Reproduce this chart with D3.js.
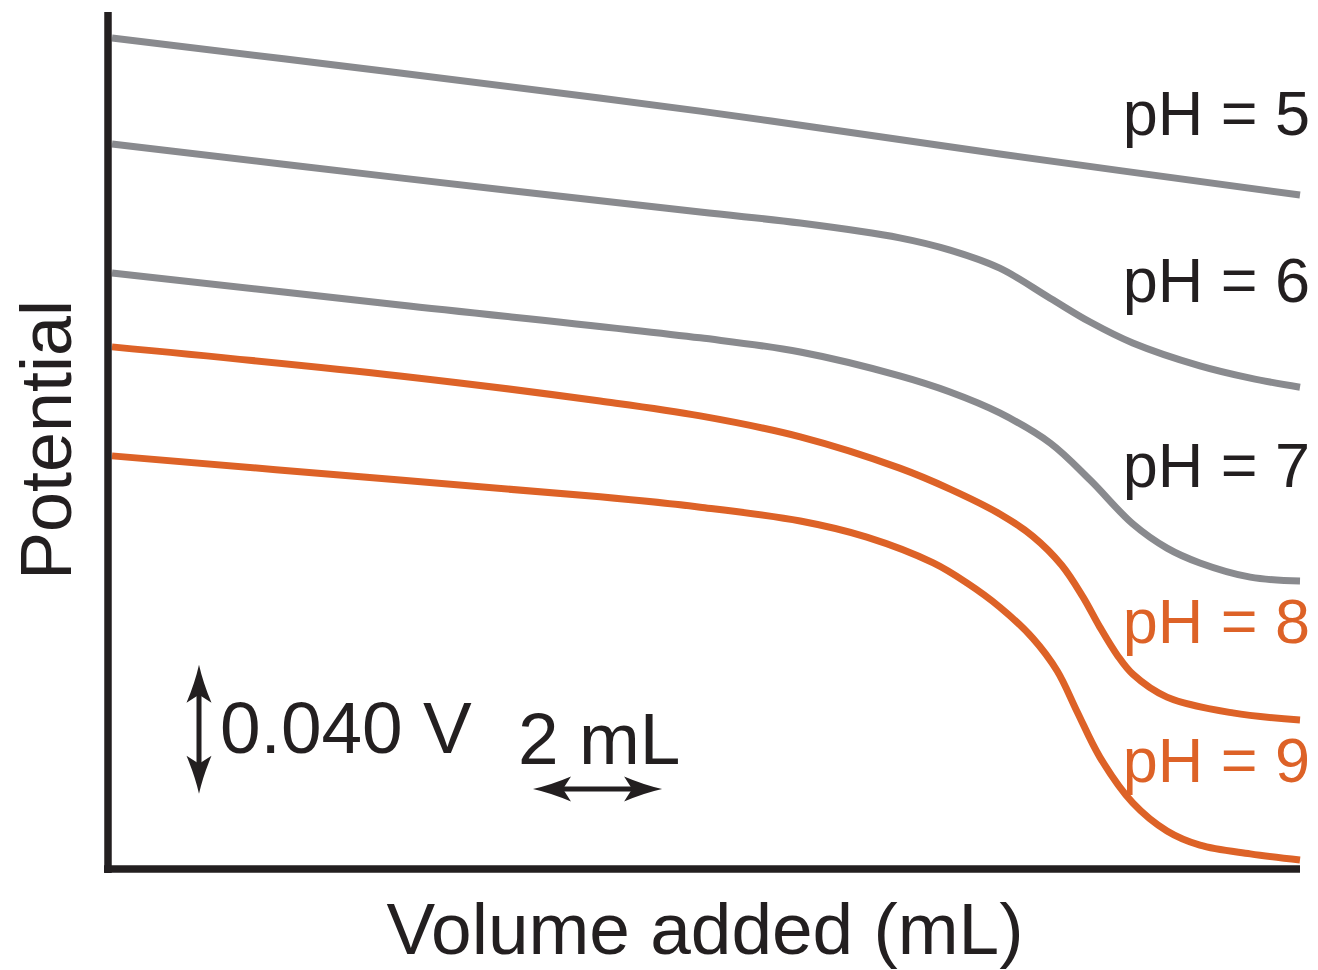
<!DOCTYPE html>
<html>
<head>
<meta charset="utf-8">
<script src="https://cdn.jsdelivr.net/npm/d3@7"></script>
<style>
	body { margin: 0; background: #fff; }
	text { font-family: "Liberation Sans", Arial, sans-serif; fill: #231f20; }
</style>
</head>
<body>
<svg id="chart" width="1318" height="970"></svg>
<script>
// ==================================
// data
// ==================================
var SERIES_NAMES = ["pH = 5", "pH = 6", "pH = 7", "pH = 8", "pH = 9"];

// volume added, mL
var VOL_PH5 = [0, 4.46, 9.11, 13.75, 18.4];
var VOL_PH6 = [0, 4.46, 9.11, 10.66, 12.20, 12.98, 13.75, 14.53, 15.15, 15.81, 16.85, 17.63, 18.4];
var VOL_PH7 = [0, 4.46, 9.11, 10.66, 12.20, 12.98, 13.75, 14.53, 15.15, 15.81, 16.34, 16.85, 17.63, 18.4];
var VOL_PH8 = [0, 4.46, 7.56, 9.11, 10.66, 12.20, 12.98, 13.75, 14.26, 14.71, 15.04, 15.30, 15.57, 15.81, 16.34, 17.36, 18.4];
var VOL_PH9 = [0, 4.46, 7.56, 9.11, 10.66, 11.69, 12.72, 13.24, 13.75, 14.26, 14.64, 14.95, 15.30, 15.81, 16.34, 16.85, 17.63, 18.4];

// potential, V (relative to the bottom of the axis)
var POT_PH5 = [0.2577, 0.2468, 0.2350, 0.2217, 0.2090];
var POT_PH6 = [0.2248, 0.2143, 0.2037, 0.2003, 0.1957, 0.1919, 0.1863, 0.1770, 0.1696, 0.1631, 0.1560, 0.1522, 0.1494];
var POT_PH7 = [0.1848, 0.1749, 0.1647, 0.1603, 0.1529, 0.1479, 0.1414, 0.1321, 0.1206, 0.1070, 0.0995, 0.0949, 0.0905, 0.0893];
var POT_PH8 = [0.1619, 0.1529, 0.1451, 0.1405, 0.1340, 0.1243, 0.1178, 0.1101, 0.1032, 0.0942, 0.0843, 0.0750, 0.0663, 0.0604, 0.0533, 0.0484, 0.0462];
var POT_PH9 = [0.1281, 0.1206, 0.1154, 0.1122, 0.1079, 0.1029, 0.0949, 0.0887, 0.0812, 0.0716, 0.0614, 0.0487, 0.0347, 0.0205, 0.0118, 0.0074, 0.0047, 0.0028];

// scale bars
var SCALE_V = 0.040;	// volts
var SCALE_ML = 2;		// mL

// ==================================
// layout
// ==================================
var GRAY = "#898a8e";
var ORANGE = "#dd6227";
var INK = "#231f20";
var COLORS = [GRAY, GRAY, GRAY, ORANGE, ORANGE];

var X0 = 112, X1 = 1300;
var Y0 = 869;
var PX_PER_V = 3225;

var svg = d3.select("#chart");

var x = d3.scaleLinear().domain([0, 18.4]).range([X0, X1]);
var y = d3.scaleLinear().domain([0, 1]).range([Y0, Y0 - PX_PER_V]);

var series = [
	{ vol: VOL_PH5, pot: POT_PH5 },
	{ vol: VOL_PH6, pot: POT_PH6 },
	{ vol: VOL_PH7, pot: POT_PH7 },
	{ vol: VOL_PH8, pot: POT_PH8 },
	{ vol: VOL_PH9, pot: POT_PH9 }
].map(function(s, i) {
	return {
		name: SERIES_NAMES[i],
		color: COLORS[i],
		points: s.vol.map(function(v, j) { return [v, s.pot[j]]; })
	};
});

// curves
var line = d3.line()
	.x(function(d) { return x(d[0]); })
	.y(function(d) { return y(d[1]); })
	.curve(d3.curveCatmullRom.alpha(0.5));

svg.append("g").selectAll("path")
	.data(series)
	.enter().append("path")
	.attr("d", function(d) { return line(d.points); })
	.attr("fill", "none")
	.attr("stroke", function(d) { return d.color; })
	.attr("stroke-width", 7);

// axes, no ticks
var yAxis = d3.axisLeft(y).tickValues([]).tickSizeOuter(0);
var xAxis = d3.axisBottom(x).tickValues([]).tickSizeOuter(0);

var yG = svg.append("g").attr("transform", "translate(108,0)").call(yAxis);
yG.select(".domain").attr("d", "M0,12V" + (Y0 + 4));
var xG = svg.append("g").attr("transform", "translate(0," + Y0 + ")").call(xAxis);
xG.select(".domain").attr("d", "M104,0H" + X1);
svg.selectAll(".domain").attr("stroke", INK).attr("stroke-width", 7.5);

// curve labels, right aligned
var LABEL_BASE = [135, 302, 487, 643, 782];
svg.append("g").selectAll("text")
	.data(series)
	.enter().append("text")
	.attr("x", 1310)
	.attr("y", function(d, i) { return LABEL_BASE[i]; })
	.attr("text-anchor", "end")
	.style("font-size", "63px")
	.style("fill", function(d) { return d.color === ORANGE ? ORANGE : INK; })
	.text(function(d) { return d.name; });

// axis titles
svg.append("text")
	.attr("transform", "translate(71,440) rotate(-90)")
	.attr("text-anchor", "middle")
	.style("font-size", "72px")
	.text("Potential");

svg.append("text")
	.attr("x", 705)
	.attr("y", 954)
	.attr("text-anchor", "middle")
	.style("font-size", "73px")
	.text("Volume added (mL)");

// ==================================
// scale bars
// ==================================
function arrowHead(g, tx, ty, angle)
{
	// notched head, tip at origin pointing along -x before rotation
	g.append("path")
		.attr("d", "M0,0 Q18,-4 38,-12.5 L30,0 L38,12.5 Q18,4 0,0 Z")
		.attr("fill", INK)
		.attr("transform", "translate(" + tx + "," + ty + ") rotate(" + angle + ")");
}

var bars = svg.append("g");

// vertical: 0.040 V
var vx = 199;
var vTop = y(0.0633), vBot = y(0.0633 - SCALE_V);
bars.append("line")
	.attr("x1", vx).attr("x2", vx)
	.attr("y1", vTop + 20).attr("y2", vBot - 20)
	.attr("stroke", INK).attr("stroke-width", 5);
arrowHead(bars, vx, vTop, 90);
arrowHead(bars, vx, vBot, -90);

bars.append("text")
	.attr("x", 220)
	.attr("y", 753)
	.style("font-size", "73px")
	.text("0.040 V");

// horizontal: 2 mL
var hy = 789;
var hL = x(6.52), hR = x(6.52 + SCALE_ML);
bars.append("line")
	.attr("x1", hL + 20).attr("x2", hR - 20)
	.attr("y1", hy).attr("y2", hy)
	.attr("stroke", INK).attr("stroke-width", 5);
arrowHead(bars, hL, hy, 0);
arrowHead(bars, hR, hy, 180);

bars.append("text")
	.attr("x", 518)
	.attr("y", 764)
	.style("font-size", "73px")
	.text("2 mL");
</script>
</body>
</html>
